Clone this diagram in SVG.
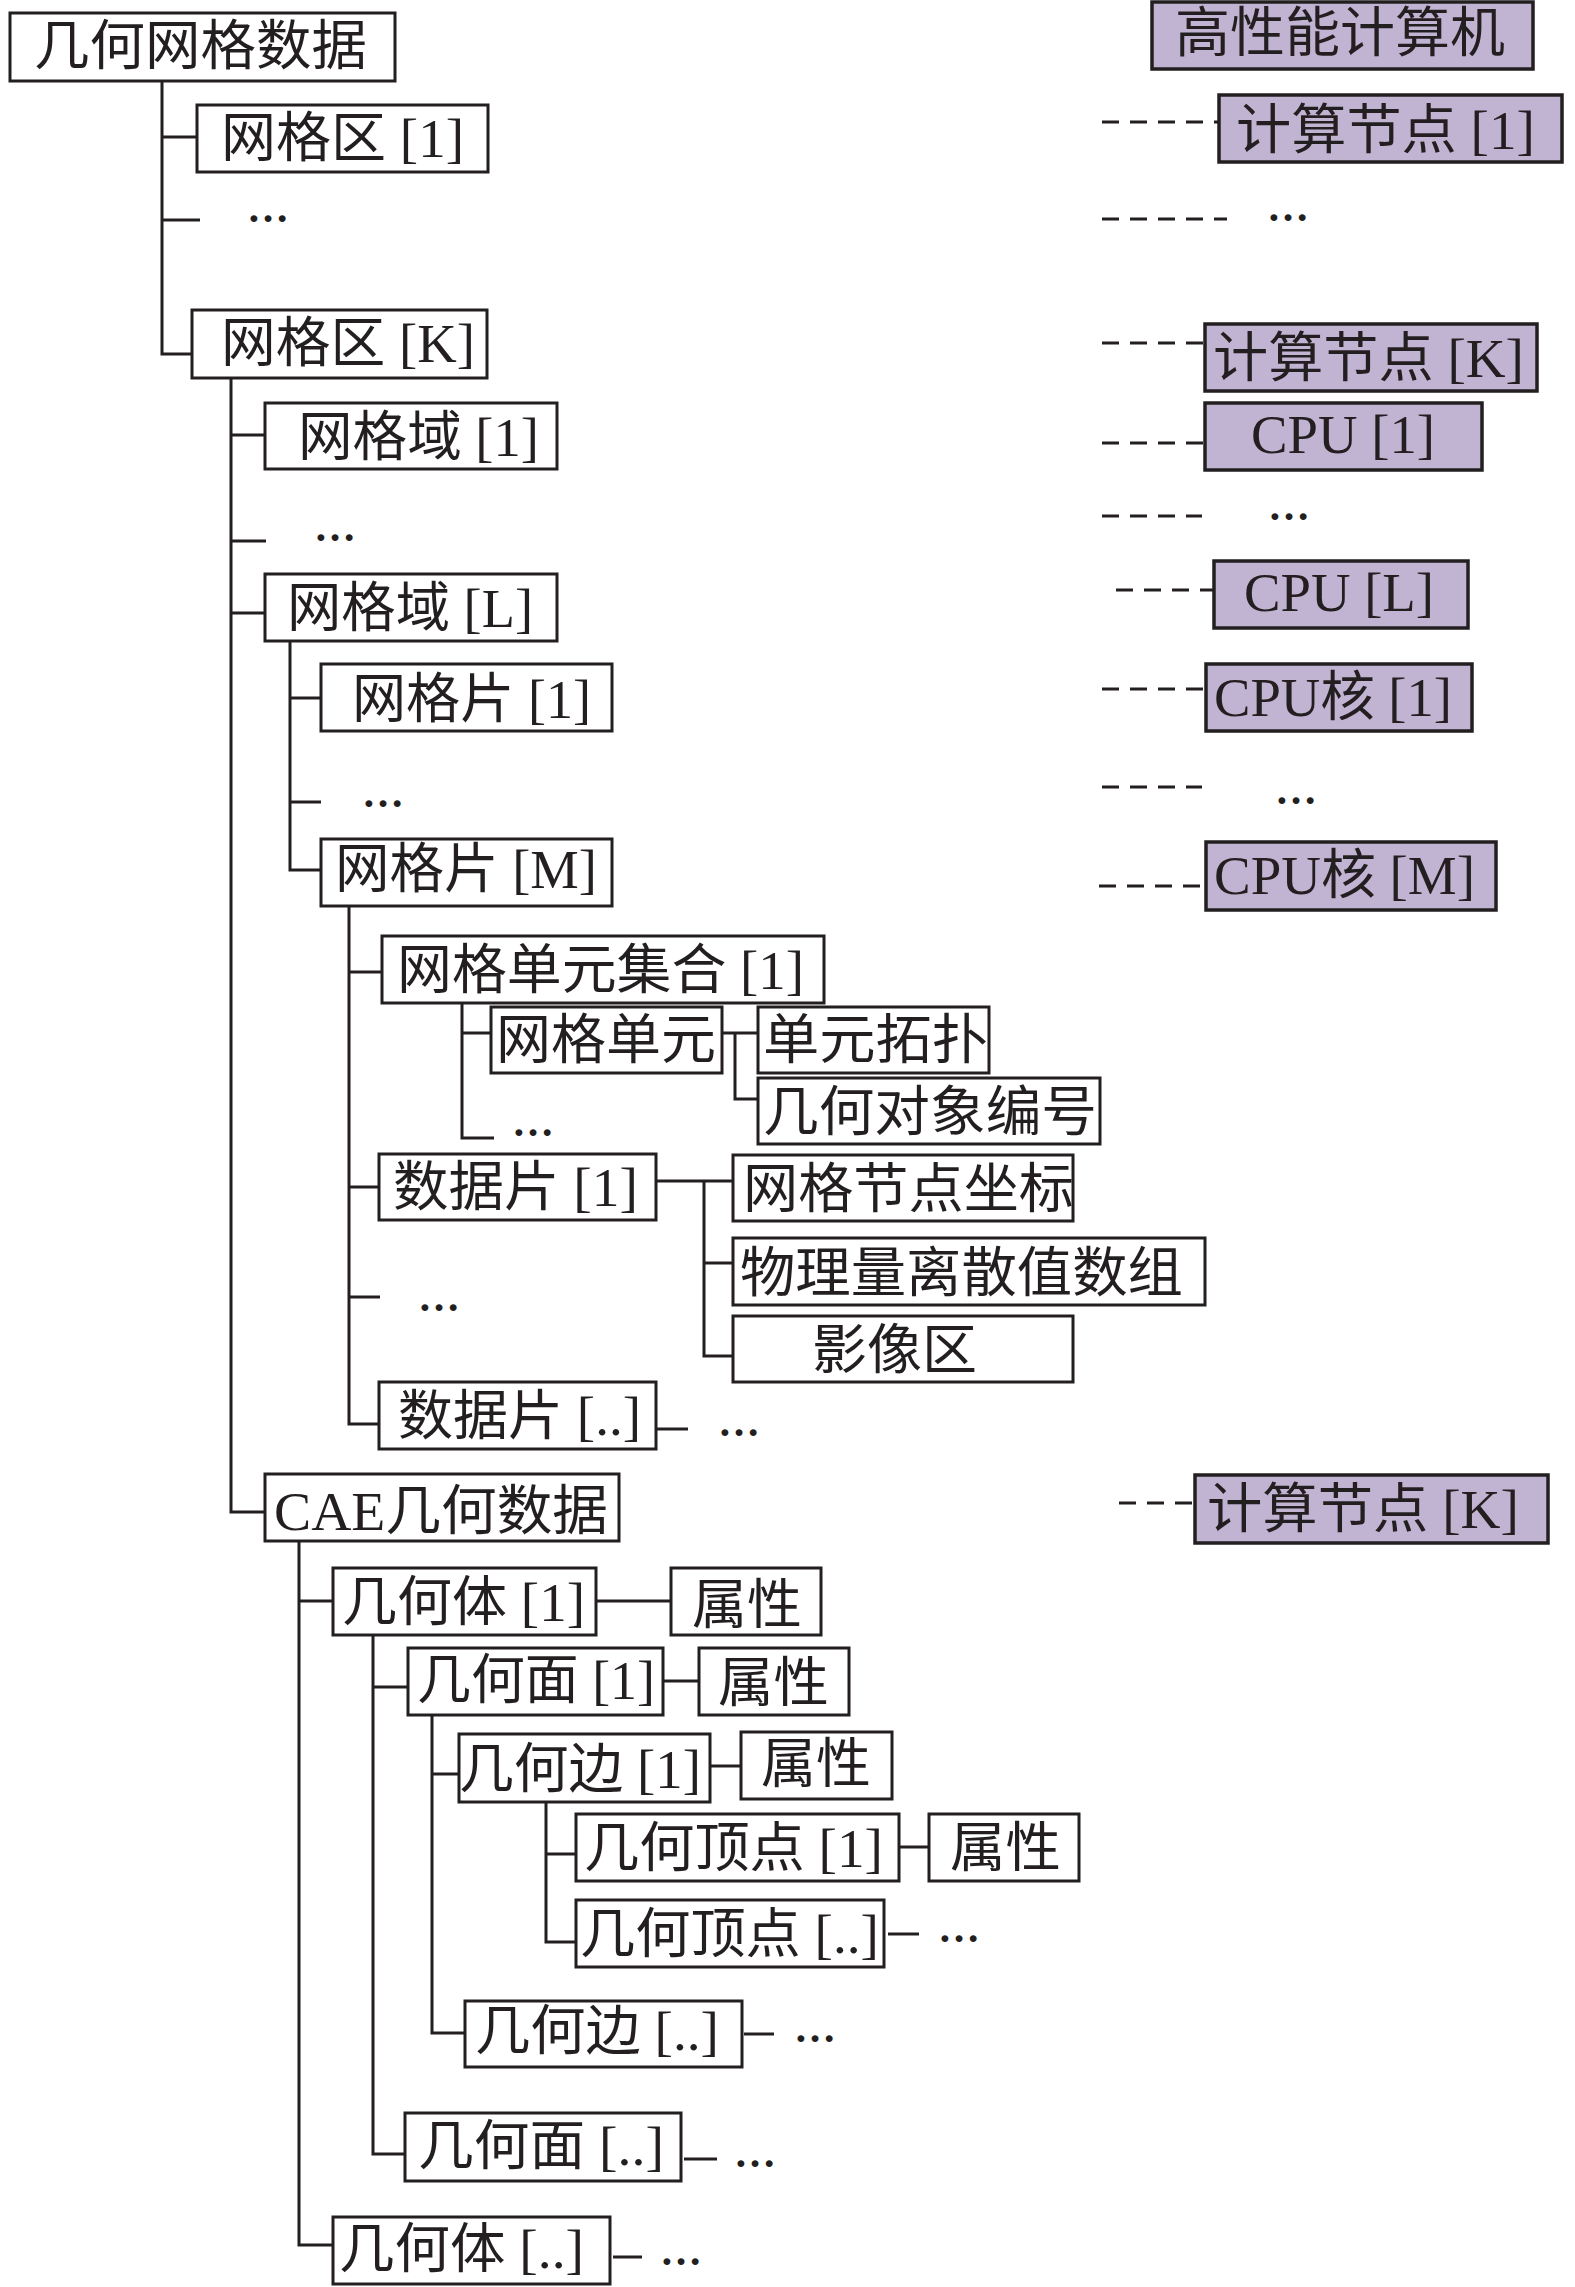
<svg xmlns="http://www.w3.org/2000/svg" width="1575" height="2287" viewBox="0 0 1575 2287">
<style>
  .b{fill:#ffffff;stroke:#231f20;stroke-width:3}
  .p{fill:#c1b4d3;stroke:#231f20;stroke-width:3.5}
  .t{font-family:"Liberation Serif","Noto Sans CJK SC",serif;font-size:54px;fill:#231f20}
  .e{font-family:"Liberation Serif",serif;font-size:42px;font-weight:bold;fill:#231f20;text-anchor:middle}
  .c{fill:none;stroke:#231f20;stroke-width:3}
  .d{fill:none;stroke:#231f20;stroke-width:3;stroke-dasharray:17 11}
</style>
<rect width="1575" height="2287" fill="#ffffff"/>
<g id="connectors">
  <path class="c" d="M162 81V354H192M162 137H197M162 220H200"/>
  <path class="c" d="M231 378V1512H265M231 435H265M231 541H266M231 613H265"/>
  <path class="c" d="M290 641V870H321M290 698H321M290 802H321"/>
  <path class="c" d="M349 906V1424H379M349 972H382M349 1187H379M349 1297H380"/>
  <path class="c" d="M462 1003V1138H494M462 1033H491"/>
  <path class="c" d="M722 1033H758M735 1033V1099H758"/>
  <path class="c" d="M656 1181H733M704 1181V1356H733M704 1263H733"/>
  <path class="c" d="M657 1429H688"/>
  <path class="c" d="M299 1541V2245H333M299 1601H333"/>
  <path class="c" d="M596 1601H671"/>
  <path class="c" d="M373 1635V2154H405M373 1687H408"/>
  <path class="c" d="M663 1681H699"/>
  <path class="c" d="M432 1715V2033H465M432 1774H459"/>
  <path class="c" d="M710 1766H741"/>
  <path class="c" d="M546 1802V1942H576M546 1854H576"/>
  <path class="c" d="M899 1847H929"/>
  <path class="c" d="M888 1934H919"/>
  <path class="c" d="M744 2034H774"/>
  <path class="c" d="M684 2159H717"/>
  <path class="c" d="M613 2257H642"/>
  <path class="d" d="M1102 122H1219"/>
  <path class="d" d="M1102 219H1227"/>
  <path class="d" d="M1102 343H1205"/>
  <path class="d" d="M1102 443H1205"/>
  <path class="d" d="M1102 516H1202"/>
  <path class="d" d="M1116 590H1214"/>
  <path class="d" d="M1102 689H1206"/>
  <path class="d" d="M1102 787H1202"/>
  <path class="d" d="M1099 886H1206"/>
  <path class="d" d="M1119 1503H1195"/>
</g>
<g id="ellipses">
  <text class="e" x="268" y="222">…</text>
  <text class="e" x="335" y="541">…</text>
  <text class="e" x="383" y="807">…</text>
  <text class="e" x="533" y="1136">…</text>
  <text class="e" x="439" y="1311">…</text>
  <text class="e" x="739" y="1436">…</text>
  <text class="e" x="959" y="1942">…</text>
  <text class="e" x="815" y="2042">…</text>
  <text class="e" x="755" y="2167">…</text>
  <text class="e" x="681" y="2265">…</text>
  <text class="e" x="1288" y="221">…</text>
  <text class="e" x="1289" y="520">…</text>
  <text class="e" x="1296" y="804">…</text>
</g>
<g id="n-root"><rect class="b" x="10" y="13" width="385" height="68"/><text class="t" x="34" y="65" textLength="333" lengthAdjust="spacingAndGlyphs">几何网格数据</text></g>
<g id="n-zone1"><rect class="b" x="197" y="105" width="291" height="67"/><text class="t" x="221" y="157" textLength="243" lengthAdjust="spacingAndGlyphs">网格区 [1]</text></g>
<g id="n-zoneK"><rect class="b" x="192" y="310" width="295" height="68"/><text class="t" x="221" y="362" textLength="254" lengthAdjust="spacingAndGlyphs">网格区 [K]</text></g>
<g id="n-domain1"><rect class="b" x="265" y="403" width="292" height="66"/><text class="t" x="298" y="456" textLength="241" lengthAdjust="spacingAndGlyphs">网格域 [1]</text></g>
<g id="n-domainL"><rect class="b" x="265" y="574" width="292" height="67"/><text class="t" x="287" y="627" textLength="246" lengthAdjust="spacingAndGlyphs">网格域 [L]</text></g>
<g id="n-patch1"><rect class="b" x="321" y="664" width="291" height="67"/><text class="t" x="352" y="718" textLength="239" lengthAdjust="spacingAndGlyphs">网格片 [1]</text></g>
<g id="n-patchM"><rect class="b" x="321" y="839" width="291" height="67"/><text class="t" x="335" y="888" textLength="262" lengthAdjust="spacingAndGlyphs">网格片 [M]</text></g>
<g id="n-cellset1"><rect class="b" x="382" y="936" width="442" height="67"/><text class="t" x="397" y="989" textLength="407" lengthAdjust="spacingAndGlyphs">网格单元集合 [1]</text></g>
<g id="n-cell"><rect class="b" x="491" y="1007" width="231" height="66"/><text class="t" x="496" y="1059" textLength="220" lengthAdjust="spacingAndGlyphs">网格单元</text></g>
<g id="n-topo"><rect class="b" x="758" y="1007" width="231" height="66"/><text class="t" x="763" y="1059" textLength="225" lengthAdjust="spacingAndGlyphs">单元拓扑</text></g>
<g id="n-geoid"><rect class="b" x="758" y="1078" width="342" height="66"/><text class="t" x="763" y="1131" textLength="334" lengthAdjust="spacingAndGlyphs">几何对象编号</text></g>
<g id="n-data1"><rect class="b" x="379" y="1154" width="277" height="66"/><text class="t" x="393" y="1206" textLength="245" lengthAdjust="spacingAndGlyphs">数据片 [1]</text></g>
<g id="n-coord"><rect class="b" x="733" y="1155" width="340" height="66"/><text class="t" x="743" y="1208" textLength="331" lengthAdjust="spacingAndGlyphs">网格节点坐标</text></g>
<g id="n-phys"><rect class="b" x="733" y="1238" width="472" height="67"/><text class="t" x="740" y="1292" textLength="443" lengthAdjust="spacingAndGlyphs">物理量离散值数组</text></g>
<g id="n-ghost"><rect class="b" x="733" y="1316" width="340" height="66"/><text class="t" x="812" y="1369" textLength="165" lengthAdjust="spacingAndGlyphs">影像区</text></g>
<g id="n-datan"><rect class="b" x="379" y="1382" width="277" height="67"/><text class="t" x="398" y="1435" textLength="243" lengthAdjust="spacingAndGlyphs">数据片 [..]</text></g>
<g id="n-cae"><rect class="b" x="265" y="1474" width="354" height="67"/><text class="t" x="274" y="1530" textLength="334" lengthAdjust="spacingAndGlyphs">CAE几何数据</text></g>
<g id="n-body1"><rect class="b" x="333" y="1568" width="263" height="67"/><text class="t" x="342" y="1621" textLength="243" lengthAdjust="spacingAndGlyphs">几何体 [1]</text></g>
<g id="n-attr1"><rect class="b" x="671" y="1568" width="150" height="67"/><text class="t" x="692" y="1624" textLength="110" lengthAdjust="spacingAndGlyphs">属性</text></g>
<g id="n-face1"><rect class="b" x="408" y="1648" width="255" height="67"/><text class="t" x="417" y="1699" textLength="238" lengthAdjust="spacingAndGlyphs">几何面 [1]</text></g>
<g id="n-attr2"><rect class="b" x="699" y="1648" width="150" height="67"/><text class="t" x="718" y="1702" textLength="111" lengthAdjust="spacingAndGlyphs">属性</text></g>
<g id="n-edge1"><rect class="b" x="459" y="1734" width="251" height="68"/><text class="t" x="459" y="1788" textLength="242" lengthAdjust="spacingAndGlyphs">几何边 [1]</text></g>
<g id="n-attr3"><rect class="b" x="741" y="1732" width="151" height="67"/><text class="t" x="761" y="1783" textLength="110" lengthAdjust="spacingAndGlyphs">属性</text></g>
<g id="n-vert1"><rect class="b" x="576" y="1814" width="323" height="67"/><text class="t" x="584" y="1867" textLength="299" lengthAdjust="spacingAndGlyphs">几何顶点 [1]</text></g>
<g id="n-attr4"><rect class="b" x="929" y="1814" width="150" height="67"/><text class="t" x="950" y="1867" textLength="111" lengthAdjust="spacingAndGlyphs">属性</text></g>
<g id="n-vertn"><rect class="b" x="576" y="1900" width="308" height="67"/><text class="t" x="580" y="1953" textLength="299" lengthAdjust="spacingAndGlyphs">几何顶点 [..]</text></g>
<g id="n-edgen"><rect class="b" x="465" y="2001" width="277" height="66"/><text class="t" x="475" y="2050" textLength="244" lengthAdjust="spacingAndGlyphs">几何边 [..]</text></g>
<g id="n-facen"><rect class="b" x="405" y="2113" width="276" height="68"/><text class="t" x="418" y="2165" textLength="246" lengthAdjust="spacingAndGlyphs">几何面 [..]</text></g>
<g id="n-bodyn"><rect class="b" x="333" y="2217" width="277" height="67"/><text class="t" x="339" y="2268" textLength="245" lengthAdjust="spacingAndGlyphs">几何体 [..]</text></g>
<g id="n-hpc"><rect class="p" x="1152" y="2" width="381" height="67"/><text class="t" x="1175" y="52" textLength="330" lengthAdjust="spacingAndGlyphs">高性能计算机</text></g>
<g id="n-node1"><rect class="p" x="1219" y="95" width="343" height="67"/><text class="t" x="1236" y="149" textLength="299" lengthAdjust="spacingAndGlyphs">计算节点 [1]</text></g>
<g id="n-nodeK"><rect class="p" x="1205" y="324" width="332" height="67"/><text class="t" x="1213" y="377" textLength="311" lengthAdjust="spacingAndGlyphs">计算节点 [K]</text></g>
<g id="n-cpu1"><rect class="p" x="1205" y="403" width="277" height="67"/><text class="t" x="1251" y="453" textLength="184" lengthAdjust="spacingAndGlyphs">CPU [1]</text></g>
<g id="n-cpuL"><rect class="p" x="1214" y="561" width="254" height="67"/><text class="t" x="1244" y="611" textLength="190" lengthAdjust="spacingAndGlyphs">CPU [L]</text></g>
<g id="n-core1"><rect class="p" x="1206" y="664" width="266" height="67"/><text class="t" x="1214" y="716" textLength="238" lengthAdjust="spacingAndGlyphs">CPU核 [1]</text></g>
<g id="n-coreM"><rect class="p" x="1206" y="842" width="290" height="68"/><text class="t" x="1214" y="894" textLength="261" lengthAdjust="spacingAndGlyphs">CPU核 [M]</text></g>
<g id="n-nodeK2"><rect class="p" x="1195" y="1475" width="353" height="68"/><text class="t" x="1207" y="1528" textLength="312" lengthAdjust="spacingAndGlyphs">计算节点 [K]</text></g>
</svg>
